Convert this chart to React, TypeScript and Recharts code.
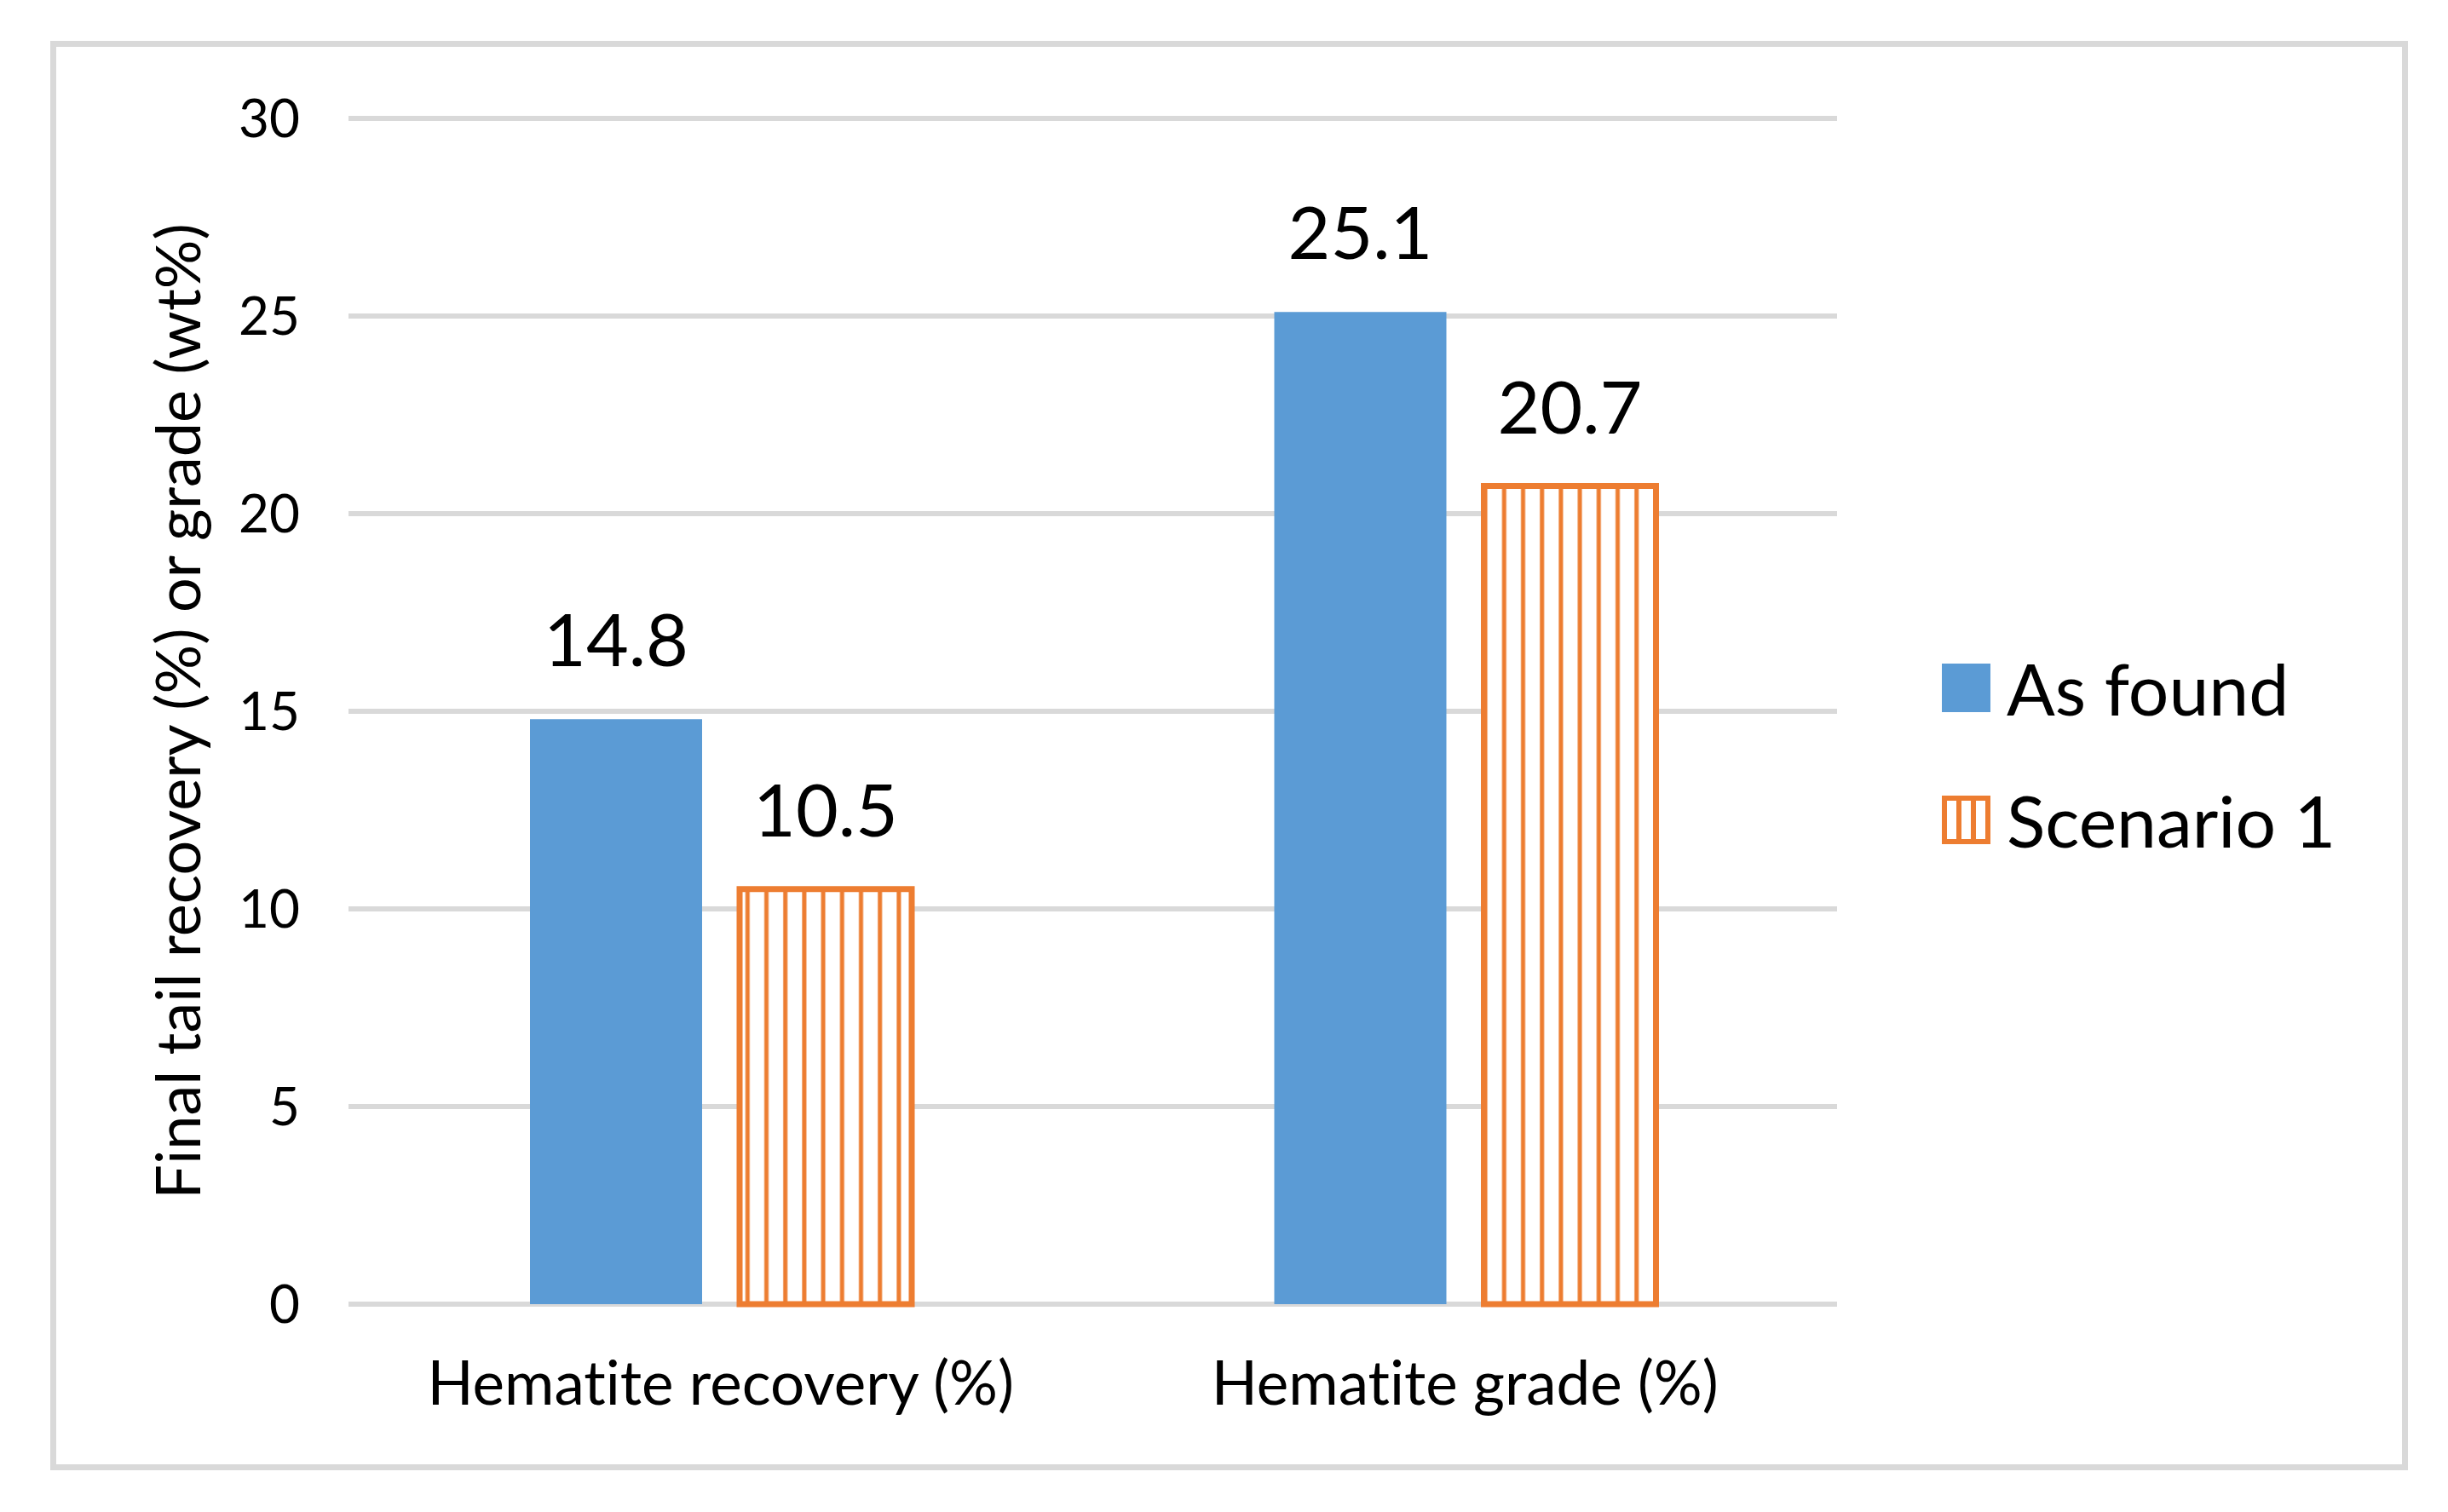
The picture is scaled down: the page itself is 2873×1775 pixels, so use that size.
import React from "react";
import { BarChart, Bar, XAxis, YAxis, CartesianGrid, Legend, LabelList } from "recharts";

const categories = ["Hematite recovery (%)", "Hematite grade (%)"];
const asFound = [14.8, 25.1];
const scenario1 = [10.5, 20.7];
const yTicks = [0, 5, 10, 15, 20, 25, 30];
const yLabel = "Final tail recovery (%) or grade (wt%)";
const seriesNames = ["As found", "Scenario 1"];

const data = categories.map((name, i) => ({
  name,
  asFound: asFound[i],
  scenario1: scenario1[i],
}));

const BLUE = "#5b9bd5";
const ORANGE = "#ed7d31";
const GRID = "#d9d9d9";
const FONT = "Lato, 'Noto Sans', sans-serif";

function LegendBox() {
  return (
    <div style={{ fontFamily: FONT, color: "#000" }}>
      <div style={{ display: "flex", alignItems: "center", height: 57, marginBottom: 98 }}>
        <svg width={57} height={57}>
          <rect x={0} y={0} width={57} height={57} fill={BLUE} />
        </svg>
        <span style={{ fontSize: 84, lineHeight: 1, marginLeft: 19 }}>{seriesNames[0]}</span>
      </div>
      <div style={{ display: "flex", alignItems: "center", height: 57 }}>
        <svg width={57} height={57}>
          <rect x={3} y={3} width={51} height={51} fill="#fff" stroke={ORANGE} strokeWidth={6} />
          <line x1={20} y1={3} x2={20} y2={54} stroke={ORANGE} strokeWidth={6} />
          <line x1={37} y1={3} x2={37} y2={54} stroke={ORANGE} strokeWidth={6} />
        </svg>
        <span style={{ fontSize: 84, lineHeight: 1, marginLeft: 19 }}>{seriesNames[1]}</span>
      </div>
    </div>
  );
}

function YTitle({ viewBox }: { viewBox?: { x: number; y: number; width: number; height: number } }) {
  if (!viewBox) return null;
  const cx = 207;
  const cy = viewBox.y + viewBox.height / 2;
  return (
    <text
      x={cx}
      y={cy}
      transform={`rotate(-90, ${cx}, ${cy})`}
      textAnchor="middle"
      dominantBaseline="central"
      fontFamily={FONT}
      fontSize={72}
      fill="#000"
    >
      {yLabel}
    </text>
  );
}

export default function App() {
  return (
    <div
      style={{
        position: "absolute",
        left: 0,
        top: 0,
        width: 2873,
        height: 1775,
        background: "#fff",
        fontVariantLigatures: "none",
      }}
    >
      <svg width={0} height={0} style={{ position: "absolute" }}>
        <defs>
          <pattern id="vlines" patternUnits="userSpaceOnUse" width={22.2} height={40}>
            <rect x={0} y={0} width={22.2} height={40} fill="#fff" />
            <rect x={9} y={0} width={5} height={40} fill={ORANGE} />
          </pattern>
        </defs>
      </svg>
      <div
        style={{
          position: "absolute",
          left: 59,
          top: 48,
          width: 2826 - 59,
          height: 1726 - 48,
          border: `7px solid ${GRID}`,
          boxSizing: "border-box",
        }}
      />
      <BarChart
        width={2873}
        height={1775}
        data={data}
        margin={{ top: 139, right: 717, bottom: 144, left: 309 }}
        barSize={202}
        barGap={44}
      >
        <CartesianGrid vertical={false} stroke={GRID} strokeWidth={6} />
        <XAxis
          dataKey="name"
          height={100}
          axisLine={false}
          tickLine={false}
          tickSize={0}
          tickMargin={68}
          tick={{ fontFamily: FONT, fontSize: 71, fill: "#000" }}
        />
        <YAxis
          width={100}
          domain={[0, 30]}
          ticks={yTicks}
          axisLine={false}
          tickLine={false}
          tickSize={0}
          tickMargin={57}
          tick={{ fontFamily: FONT, fontSize: 62, fill: "#000" }}
          label={<YTitle />}
        />
        <Legend
          layout="vertical"
          align="center"
          verticalAlign="middle"
          content={<LegendBox />}
          wrapperStyle={{ left: 2279, top: 779, width: 580, height: 260 }}
        />
        <Bar dataKey="asFound" name={seriesNames[0]} fill={BLUE} isAnimationActive={false}>
          <LabelList
            dataKey="asFound"
            position="top"
            offset={62}
            style={{ fontFamily: FONT, fontSize: 86, fill: "#000" }}
          />
        </Bar>
        <Bar
          dataKey="scenario1"
          name={seriesNames[1]}
          fill="url(#vlines)"
          stroke={ORANGE}
          strokeWidth={7}
          isAnimationActive={false}
        >
          <LabelList
            dataKey="scenario1"
            position="top"
            offset={62}
            style={{ fontFamily: FONT, fontSize: 86, fill: "#000" }}
          />
        </Bar>
      </BarChart>
    </div>
  );
}
